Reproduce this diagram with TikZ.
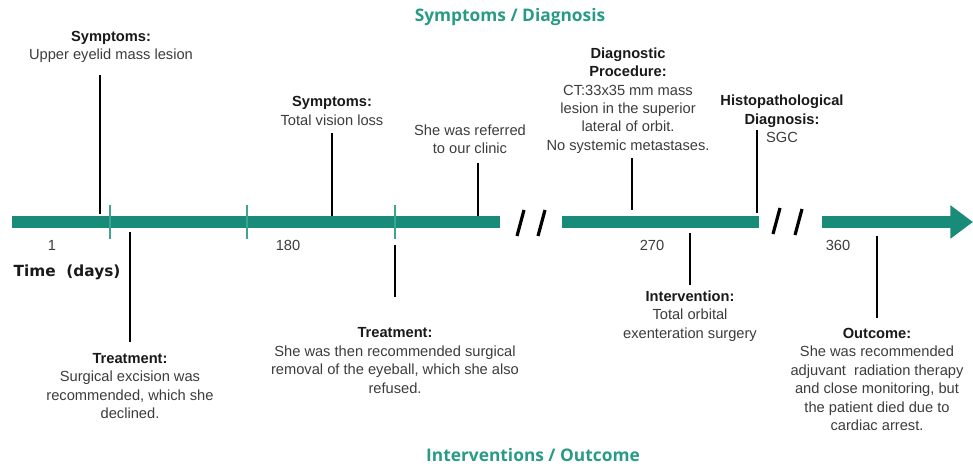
\documentclass[tikz,border=0pt]{standalone}
\usepackage{fontspec}
\setmainfont{Liberation Sans}
\newfontfamily\ttlfont{Open Sans}
\newfontfamily\axisfont{DejaVu Sans}
\usepackage{tikz}
\usetikzlibrary{arrows.meta}
\definecolor{barteal}{RGB}{24,140,120}
\definecolor{tickteal}{RGB}{60,165,145}
\definecolor{ttlteal}{RGB}{40,155,135}
\definecolor{bodygray}{RGB}{60,60,60}
\definecolor{headblack}{RGB}{25,25,25}
\newcommand{\hd}[1]{\textcolor{headblack}{\textbf{#1}}}

\begin{document}
\begin{tikzpicture}[x=0.75pt, y=-0.75pt, every node/.style={font=\fontsize{11}{13.8}\selectfont, align=center, text=bodygray}]
\tikzstyle{bar}=[line width=8.5pt, draw=barteal]
\tikzstyle{tickmark}=[line width=1.6pt, draw=tickteal]
\tikzstyle{stem}=[line width=2.2pt, draw=black]
\tikzstyle{brk}=[line width=2.4pt, draw=black]
\tikzstyle{ttl}=[font=\ttlfont\bfseries\fontsize{13}{15}\selectfont, text=ttlteal]
\useasboundingbox (0,0) rectangle (973,466);

% timeline bar
\coordinate (b0) at (12,222);
\coordinate (b1) at (500,222);
\coordinate (b2) at (562,222);
\coordinate (b3) at (759,222);
\coordinate (b4) at (822,222);
\coordinate (b5) at (973,222);
\draw[bar] (b0) -- (b1);
\draw[bar] (b2) -- (b3);
\draw[bar, -{Triangle[length=17pt, width=24pt]}] (b4) -- (b5);

% ticks
\foreach \x [count=\i] in {110,247,395} {
  \coordinate (t\i a) at (\x,205);
  \coordinate (t\i b) at (\x,239);
  \draw[tickmark] (t\i a) -- (t\i b);
}

% breaks
\coordinate (k1a) at (517,236); \coordinate (k1b) at (524,210);
\coordinate (k2a) at (538,236); \coordinate (k2b) at (545,210);
\coordinate (k3a) at (773,234); \coordinate (k3b) at (780,208);
\coordinate (k4a) at (795,235); \coordinate (k4b) at (802,209);
\draw[brk] (k1a) -- (k1b);
\draw[brk] (k2a) -- (k2b);
\draw[brk] (k3a) -- (k3b);
\draw[brk] (k4a) -- (k4b);

% titles and axis
\node[ttl] (top) at (510,17) {Symptoms / Diagnosis};
\node[ttl] (bottom) at (533,455) {Interventions / Outcome};
\node (d1) at (52,245) {1};
\node (d180) at (288,245) {180};
\node (d270) at (652,245) {270};
\node (d360) at (838,245) {360};
\node[font=\axisfont\bfseries\fontsize{11.5}{14}\selectfont, text=headblack] (time) at (67,272) {Time\ \ (days)};

% events above
\node (sym1) at (111,47) {\hd{Symptoms:}\\Upper eyelid mass lesion};
\node (sym2) at (332,111) {\hd{Symptoms:}\\Total vision loss};
\node (refer) at (470,139) {She was referred\\to our clinic};
\node (diag) at (628,100.5) {\hd{Diagnostic}\\\hd{Procedure:}\\CT:33x35 mm mass\\lesion in the superior\\lateral of orbit.\\No systemic metastases.};
\node (histo) at (782,119) {\hd{Histopathological}\\\hd{Diagnosis:}\\SGC};

% events below
\node (treat1) at (130,386) {\hd{Treatment:}\\Surgical excision was\\recommended, which she\\declined.};
\node (treat2) at (395,360.5) {\hd{Treatment:}\\She was then recommended surgical\\removal of the eyeball, which she also\\refused.};
\node (interv) at (690,316) {\hd{Intervention:}\\Total orbital\\exenteration surgery};
\node (outc) at (877,379.5) {\hd{Outcome:}\\She was recommended\\adjuvant\ \ radiation therapy\\and close monitoring, but\\the patient died due to\\cardiac arrest.};

% stems
\coordinate (s1a) at (100,75);  \coordinate (s1b) at (100,214);
\coordinate (s2a) at (332,133); \coordinate (s2b) at (332,216);
\coordinate (s3a) at (478,163); \coordinate (s3b) at (478,216);
\coordinate (s4a) at (632,158); \coordinate (s4b) at (632,210);
\coordinate (s5a) at (757,130); \coordinate (s5b) at (757,213);
\coordinate (s6a) at (130,232); \coordinate (s6b) at (130,342);
\coordinate (s7a) at (395,245); \coordinate (s7b) at (395,297);
\coordinate (s8a) at (690,233); \coordinate (s8b) at (690,285);
\coordinate (s9a) at (877,236); \coordinate (s9b) at (877,318);
\foreach \i in {1,...,9} {
  \draw[stem] (s\i a) -- (s\i b);
}
\end{tikzpicture}
\end{document}
